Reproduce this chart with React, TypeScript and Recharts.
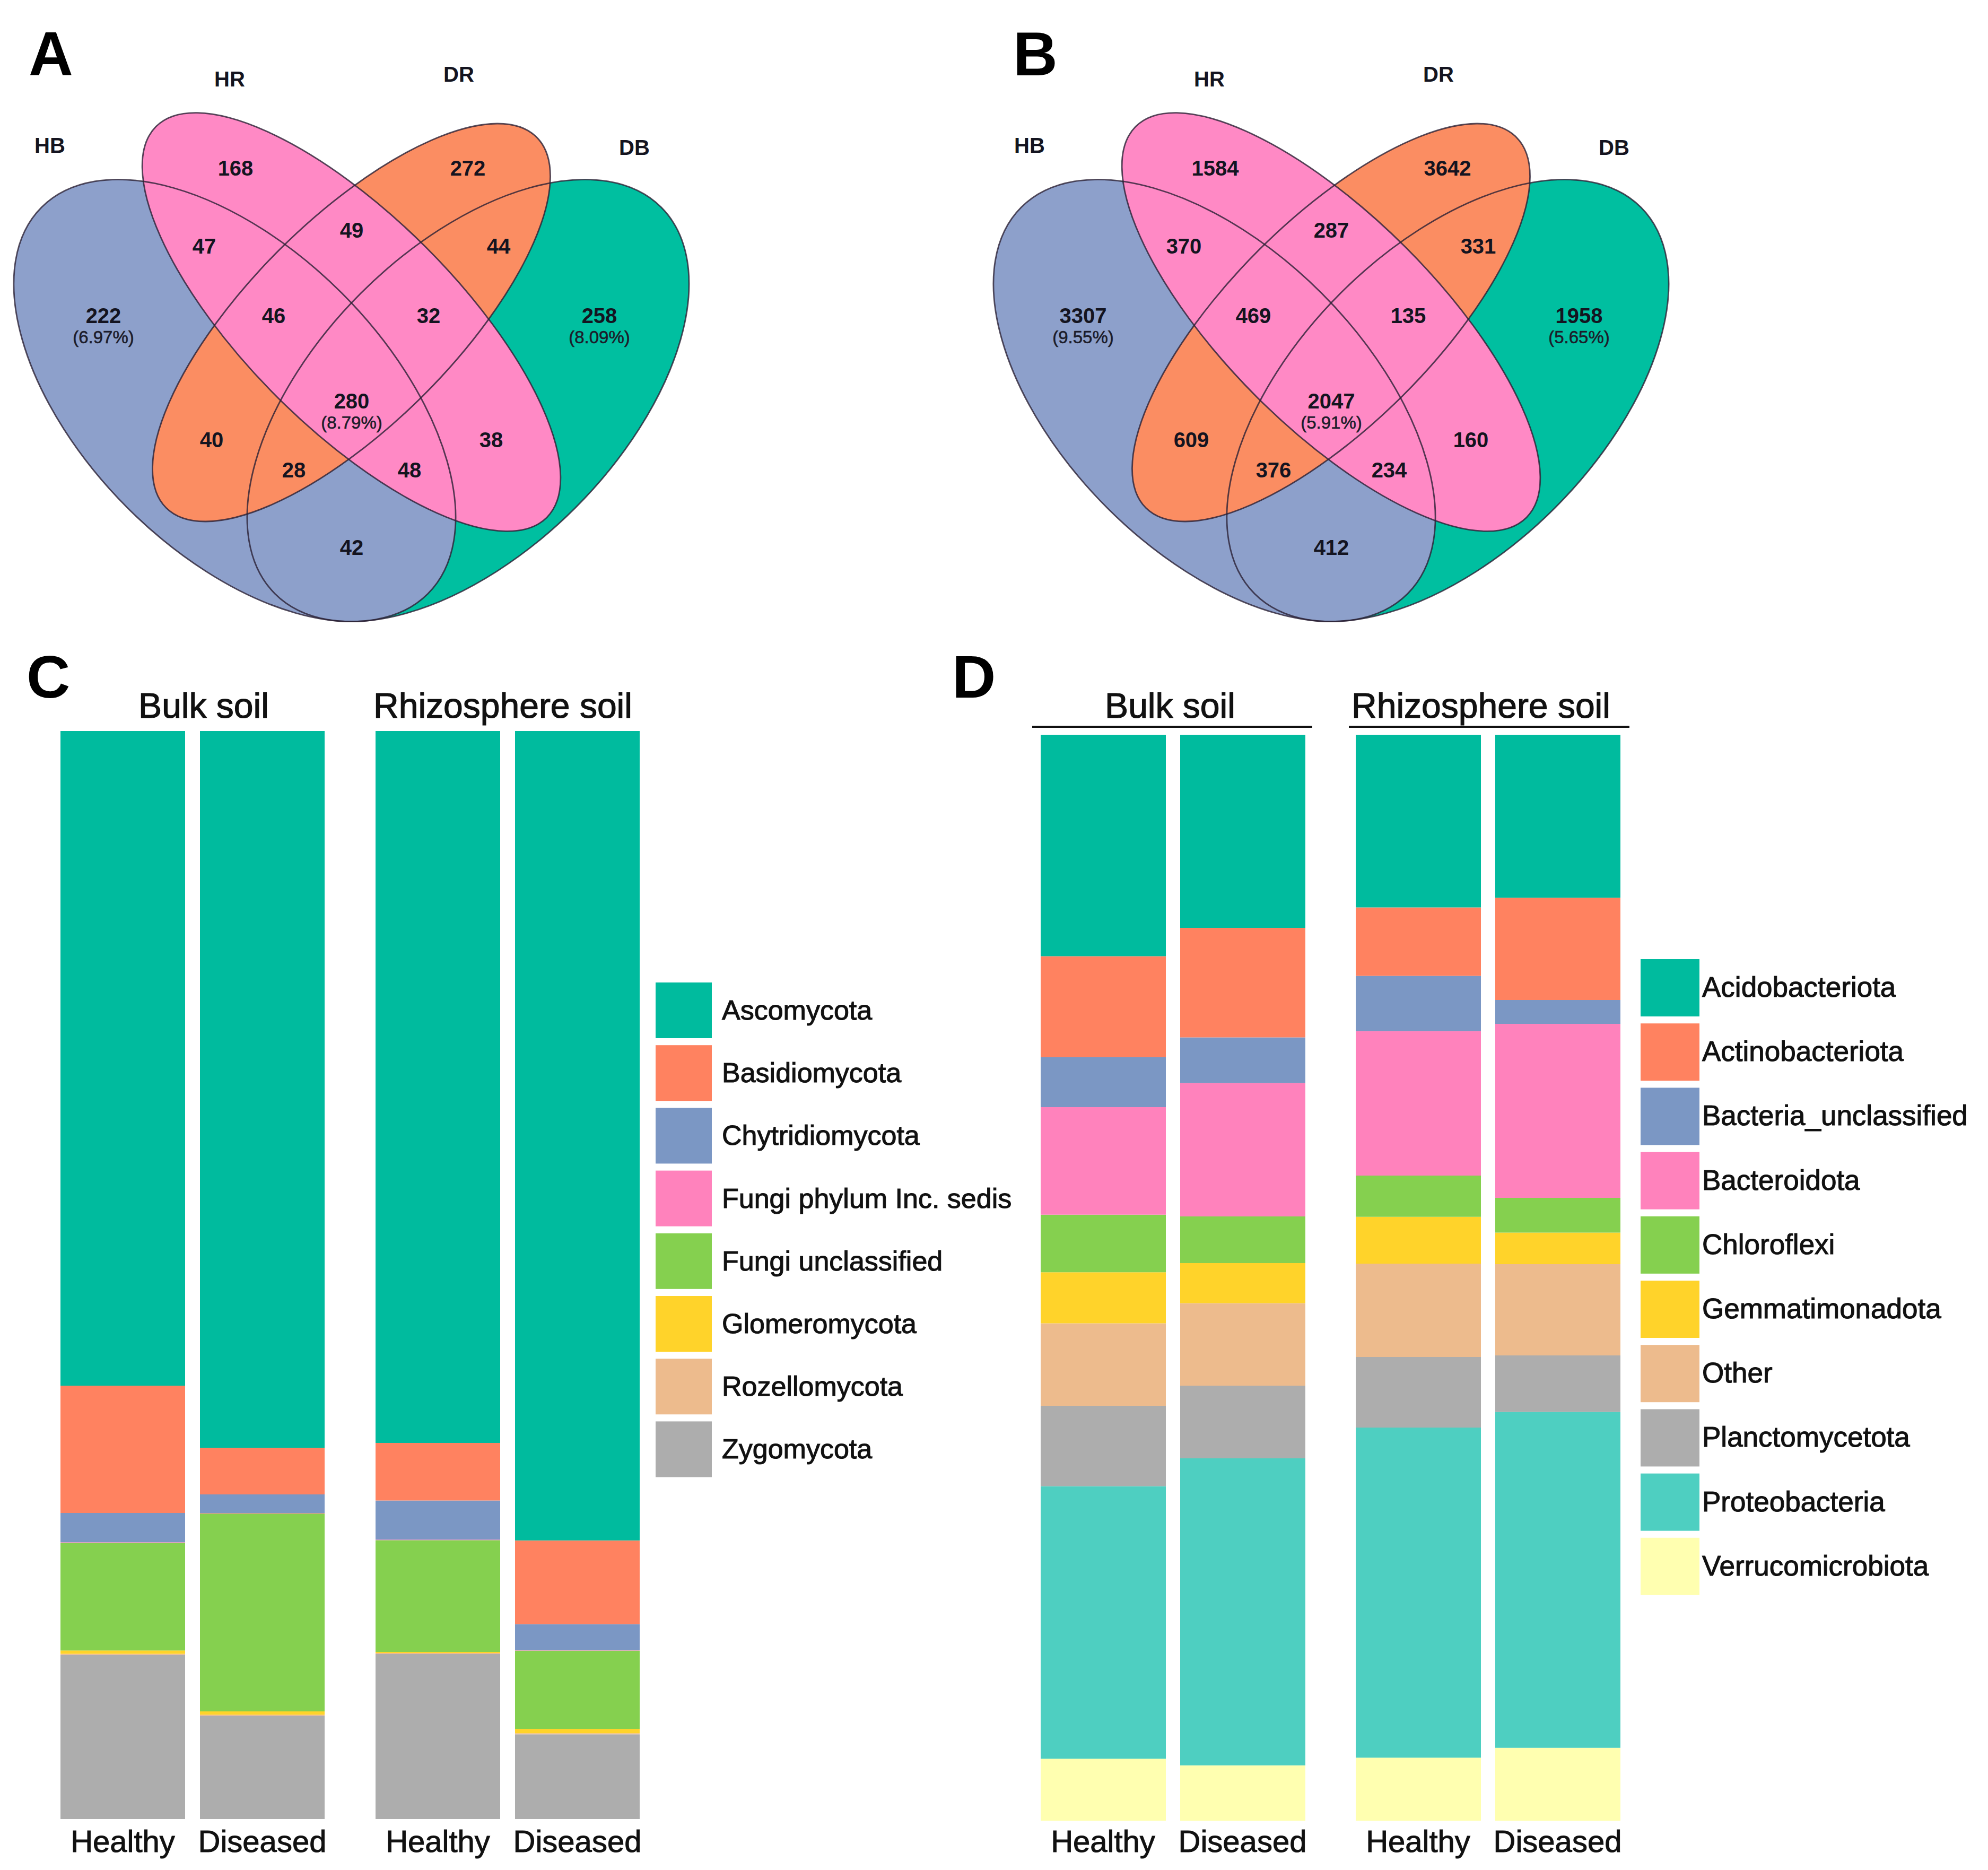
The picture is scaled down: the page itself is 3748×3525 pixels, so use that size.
import React from 'react';
import { BarChart, Bar, XAxis, YAxis, ScatterChart, Scatter } from 'recharts';

const FONT = '"Liberation Sans", Arial, sans-serif';

// ---------- Venn counts (A: fungi, B: bacteria) ----------
const vennRegions = [
  'HR', 'DR', 'HB&HR', 'HR&DR', 'DR&DB', 'HB', 'HB&HR&DR', 'HR&DR&DB',
  'DB', 'ALL', 'HB&DR', 'HR&DB', 'HB&DR&DB', 'HB&HR&DB', 'HB&DB',
];
const countsA = [168, 272, 47, 49, 44, 222, 46, 32, 258, 280, 40, 38, 28, 48, 42];
const countsB = [1584, 3642, 370, 287, 331, 3307, 469, 135, 1958, 2047, 609, 160, 376, 234, 412];
const pctA: Record<string, string> = { HB: '6.97%', DB: '8.09%', ALL: '8.79%' };
const pctB: Record<string, string> = { HB: '9.55%', DB: '5.65%', ALL: '5.91%' };
const vennSets = ['DB', 'HB', 'DR', 'HR']; // drawing order, bottom first

// ---------- stacked bars ----------
const samples = ['Healthy', 'Diseased'];

const fungiPhyla = [
  'Ascomycota', 'Basidiomycota', 'Chytridiomycota', 'Fungi phylum Inc. sedis',
  'Fungi unclassified', 'Glomeromycota', 'Rozellomycota', 'Zygomycota',
];
const fungiBulkHealthy = [60.2, 11.7, 2.7, 0.05, 9.9, 0.3, 0.1, 15.1];
const fungiBulkDiseased = [65.9, 4.3, 1.7, 0.05, 18.2, 0.3, 0.1, 9.5];
const fungiRhizoHealthy = [65.6, 5.3, 3.6, 0.05, 10.3, 0.1, 0.1, 15.2];
const fungiRhizoDiseased = [74.5, 7.7, 2.4, 0.05, 7.2, 0.4, 0.1, 7.8];

const bacteriaPhyla = [
  'Acidobacteriota', 'Actinobacteriota', 'Bacteria_unclassified', 'Bacteroidota', 'Chloroflexi',
  'Gemmatimonadota', 'Other', 'Planctomycetota', 'Proteobacteria', 'Verrucomicrobiota',
];
const bactBulkHealthy = [20.4, 9.3, 4.6, 9.9, 5.3, 4.7, 7.6, 7.4, 25.1, 5.7];
const bactBulkDiseased = [17.8, 10.1, 4.2, 12.3, 4.3, 3.7, 7.6, 6.7, 28.3, 5.1];
const bactRhizoHealthy = [15.9, 6.3, 5.1, 13.3, 3.8, 4.3, 8.6, 6.5, 30.4, 5.8];
const bactRhizoDiseased = [15.0, 9.4, 2.2, 16.0, 3.2, 2.9, 8.4, 5.2, 30.9, 6.7];

// ---------- styles / layout ----------
const fungiColors = ['#00BB9E', '#FF8260', '#7B97C4', '#FF82BC', '#85D04F', '#FFD32A', '#EDBB8D', '#ADADAD'];
const bacteriaColors = [
  '#00BB9E', '#FF8260', '#7B97C4', '#FF82BC', '#85D04F',
  '#FFD32A', '#EDBB8D', '#ADADAD', '#4ECFC1', '#FFFFB0',
];
const setColors: Record<string, string> = { HB: '#8DA0CB', HR: '#FF89C5', DR: '#FB8D62', DB: '#00BFA0' };

// ellipse geometry of the 4-set Venn, in px of the Venn box
const ellipseLayout: Record<string, { x: number; y: number; rx: number; ry: number; angle: number }> = {
  DB: { x: 882.5, y: 755, rx: 515, ry: 286, angle: -45 },
  HB: { x: 442.5, y: 755, rx: 515, ry: 286, angle: 45 },
  DR: { x: 662.5, y: 608, rx: 494, ry: 193, angle: -45 },
  HR: { x: 662.5, y: 607, rx: 521, ry: 199, angle: 45 },
};
const regionPos: [number, number][] = [
  [444, 317], [882, 317], [385, 464], [663, 434], [940, 464], [195, 595], [516, 595], [808, 595],
  [1130, 595], [663, 756], [399, 829], [926, 829], [554, 886], [772, 886], [663, 1032],
];
const setLabelPos: Record<string, [number, number]> = {
  HB: [94, 274], HR: [433, 149], DR: [865, 140], DB: [1196, 278],
};

const VENN_W = 1340;
const VENN_H = 1220;

function toRows(phyla: string[], healthy: number[], diseased: number[]) {
  return samples.map((s, si) => {
    const row: Record<string, any> = { sample: s };
    phyla.forEach((p, i) => {
      row[p] = si === 0 ? healthy[i] : diseased[i];
    });
    return row;
  });
}

const EllipseFill = (props: any) => {
  const { cx, cy, payload } = props;
  return (
    <ellipse cx={cx} cy={cy} rx={payload.rx} ry={payload.ry}
      transform={`rotate(${payload.angle} ${cx} ${cy})`} fill={payload.fill} stroke="none" />
  );
};
const EllipseLine = (props: any) => {
  const { cx, cy, payload } = props;
  return (
    <ellipse cx={cx} cy={cy} rx={payload.rx} ry={payload.ry}
      transform={`rotate(${payload.angle} ${cx} ${cy})`} fill="none" stroke="#2a2035"
      strokeOpacity={0.8} strokeWidth={2.8} />
  );
};
const RegionLabel = (props: any) => {
  const { cx, cy, payload } = props;
  return (
    <g>
      <text x={cx} y={cy} textAnchor="middle" dominantBaseline="central" fontFamily={FONT}
        fontWeight="bold" fontSize={40} fill="#141420">{payload.label}</text>
      {payload.pct ? (
        <text x={cx} y={cy + 40} textAnchor="middle" dominantBaseline="central" fontFamily={FONT}
          fontSize={33} fill="#1c1c2a" stroke="#1c1c2a" strokeWidth={0.6}>({payload.pct})</text>
      ) : null}
    </g>
  );
};

function Venn({ left, counts, pct }: { left: number; counts: number[]; pct: Record<string, string> }) {
  const shapes = vennSets.map((s) => ({ ...ellipseLayout[s], fill: setColors[s] }));
  const labels = vennRegions.map((r, i) => ({
    x: regionPos[i][0], y: regionPos[i][1], label: String(counts[i]), pct: pct[r] || '',
  }));
  const setLabels = Object.keys(setLabelPos).map((s) => ({ x: setLabelPos[s][0], y: setLabelPos[s][1], label: s }));
  return (
    <div style={{ position: 'absolute', left, top: 0 }}>
      <ScatterChart width={VENN_W} height={VENN_H} margin={{ top: 0, right: 0, bottom: 0, left: 0 }}>
        <XAxis type="number" dataKey="x" domain={[0, VENN_W]} hide allowDataOverflow />
        <YAxis type="number" dataKey="y" domain={[0, VENN_H]} reversed hide allowDataOverflow />
        <Scatter data={shapes} shape={EllipseFill} isAnimationActive={false} />
        <Scatter data={shapes} shape={EllipseLine} isAnimationActive={false} />
        <Scatter data={labels} shape={RegionLabel} isAnimationActive={false} />
        <Scatter data={setLabels} shape={RegionLabel} isAnimationActive={false} />
      </ScatterChart>
    </div>
  );
}

function Stacked({ left, top, plotH, rows, phyla, colors, barSize, tickMargin }: any) {
  const order = [...phyla].reverse();
  return (
    <div style={{ position: 'absolute', left, top }}>
      <BarChart width={526} height={plotH + 100} data={rows} stackOffset="expand" barSize={barSize}
        margin={{ top: 0, right: 0, bottom: 0, left: 0 }}>
        <XAxis dataKey="sample" height={100} axisLine={false} tickLine={false} interval={0}
          tickMargin={tickMargin}
          tick={{ fontSize: 58, fill: '#111', stroke: '#111', strokeWidth: 1, fontFamily: FONT }} />
        <YAxis hide />
        {order.map((p: string) => (
          <Bar key={p} dataKey={p} stackId="s" fill={colors[phyla.indexOf(p)]} isAnimationActive={false} />
        ))}
      </BarChart>
    </div>
  );
}

function LegendBlock({ x, y0, step, w, h, textX, textDy, fontSize, names, colors }: any) {
  return (
    <g>
      {names.map((n: string, i: number) => (
        <g key={n}>
          <rect x={x} y={y0 + i * step} width={w} height={h} fill={colors[i]} />
          <text x={textX} y={y0 + i * step + textDy} fontFamily={FONT} fontSize={fontSize}
            fill="#111" stroke="#111" strokeWidth={1.1}>{n}</text>
        </g>
      ))}
    </g>
  );
}

export default function App() {
  return (
    <div style={{ position: 'absolute', left: 0, top: 0, width: 3748, height: 3525, background: '#fff', overflow: 'hidden' }}>
      <Venn left={0} counts={countsA} pct={pctA} />
      <Venn left={1847} counts={countsB} pct={pctB} />

      <Stacked left={100} top={1378} plotH={2051} rows={toRows(fungiPhyla, fungiBulkHealthy, fungiBulkDiseased)}
        phyla={fungiPhyla} colors={fungiColors} barSize={235} tickMargin={15} />
      <Stacked left={694} top={1378} plotH={2051} rows={toRows(fungiPhyla, fungiRhizoHealthy, fungiRhizoDiseased)}
        phyla={fungiPhyla} colors={fungiColors} barSize={235} tickMargin={15} />
      <Stacked left={1948} top={1385} plotH={2047} rows={toRows(bacteriaPhyla, bactBulkHealthy, bactBulkDiseased)}
        phyla={bacteriaPhyla} colors={bacteriaColors} barSize={236} tickMargin={12} />
      <Stacked left={2542} top={1385} plotH={2047} rows={toRows(bacteriaPhyla, bactRhizoHealthy, bactRhizoDiseased)}
        phyla={bacteriaPhyla} colors={bacteriaColors} barSize={236} tickMargin={12} />

      <svg width={3748} height={3525} style={{ position: 'absolute', left: 0, top: 0, pointerEvents: 'none' }}>
        <g fontFamily={FONT} fontWeight="bold" fill="#000">
          <text x={54} y={142} fontSize={116}>A</text>
          <text x={1910} y={142} fontSize={116}>B</text>
          <text x={50} y={1315} fontSize={114}>C</text>
          <text x={1795} y={1315} fontSize={114}>D</text>
        </g>
        <g fontFamily={FONT} fontSize={66} fill="#111" stroke="#111" strokeWidth={1.2} textAnchor="middle">
          <text x={384} y={1353}>Bulk soil</text>
          <text x={948} y={1353}>Rhizosphere soil</text>
          <text x={2206} y={1353}>Bulk soil</text>
          <text x={2792} y={1353}>Rhizosphere soil</text>
        </g>
        <line x1={1946} x2={2474} y1={1370} y2={1370} stroke="#111" strokeWidth={4} />
        <line x1={2543} x2={3072} y1={1370} y2={1370} stroke="#111" strokeWidth={4} />
        <LegendBlock x={1236} y0={1852} step={118.2} w={106} h={105} textX={1361} textDy={70}
          fontSize={52} names={fungiPhyla} colors={fungiColors} />
        <LegendBlock x={3093} y0={1808} step={121.2} w={111} h={108} textX={3209} textDy={71}
          fontSize={53} names={bacteriaPhyla} colors={bacteriaColors} />
      </svg>
    </div>
  );
}
